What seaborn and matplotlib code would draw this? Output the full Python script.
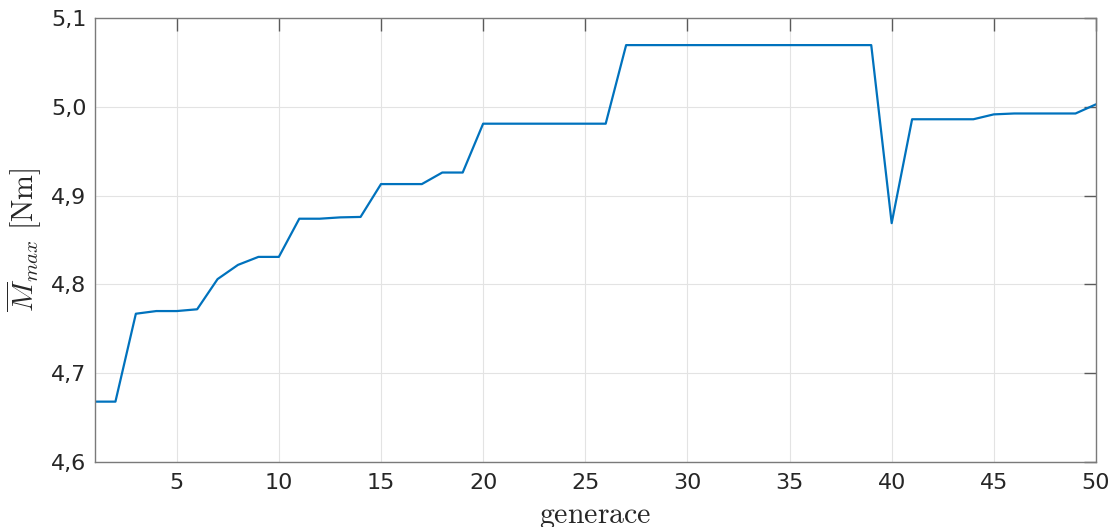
import numpy as np
import pandas as pd
import matplotlib
matplotlib.use("Agg")
import matplotlib.pyplot as plt
import seaborn as sns
from matplotlib.ticker import FuncFormatter

# Best torque value found in each generation of the optimisation run
generations = list(range(1, 51))
torque_max = [
    4.668, 4.668, 4.767, 4.770, 4.770, 4.772, 4.806, 4.822, 4.831, 4.831,
    4.874, 4.874, 4.8755, 4.876, 4.913, 4.913, 4.913, 4.926, 4.926, 4.981,
    4.981, 4.981, 4.981, 4.981, 4.981, 4.981, 5.0695, 5.0695, 5.0695, 5.0695,
    5.0695, 5.0695, 5.0695, 5.0695, 5.0695, 5.0695, 5.0695, 5.0695, 5.0695, 4.869,
    4.986, 4.986, 4.986, 4.986, 4.9915, 4.9925, 4.9925, 4.9925, 4.9925, 5.0028,
]
x_ticks = [5, 10, 15, 20, 25, 30, 35, 40, 45, 50]
y_ticks = [4.6, 4.7, 4.8, 4.9, 5.0, 5.1]

df = pd.DataFrame({"generace": generations, "M": torque_max})

sns.set_style("white")
plt.rcParams["font.family"] = ["DejaVu Sans"]
plt.rcParams["mathtext.fontset"] = "cm"

fig = plt.figure(figsize=(11.19, 5.27), dpi=100)
ax = fig.add_axes([0.0849, 0.1233, 0.8945, 0.8425])

sns.lineplot(data=df, x="generace", y="M", ax=ax, color="#0072BD", linewidth=1.6)

ax.set_xlim(1, 50)
ax.set_ylim(4.6, 5.1)
ax.set_xticks(x_ticks)
ax.set_yticks(y_ticks)
ax.yaxis.set_major_formatter(FuncFormatter(lambda v, p: f"{v:.1f}".replace(".", ",")))

ax.grid(True, color="#e3e3e3", linewidth=0.8)
ax.set_axisbelow(True)
for s in ax.spines.values():
    s.set_visible(True)
    s.set_color("#7a7a7a")
    s.set_linewidth(1.0)

ax.tick_params(axis="both", direction="in", length=9, width=1.0, color="#5a5a5a",
               labelsize=16, labelcolor="#262626", top=True, right=True)
ax.tick_params(axis="y", pad=6)
ax.tick_params(axis="x", pad=8)

ax.set_xlabel(r"$\mathrm{generace}$", fontsize=21.5, color="#262626", labelpad=6.5)
ax.set_ylabel(r"$\overline{M}_{max}\ \mathrm{[Nm]}$", fontsize=21.5, color="#262626", labelpad=5)

fig.savefig("out.png", dpi=100)
